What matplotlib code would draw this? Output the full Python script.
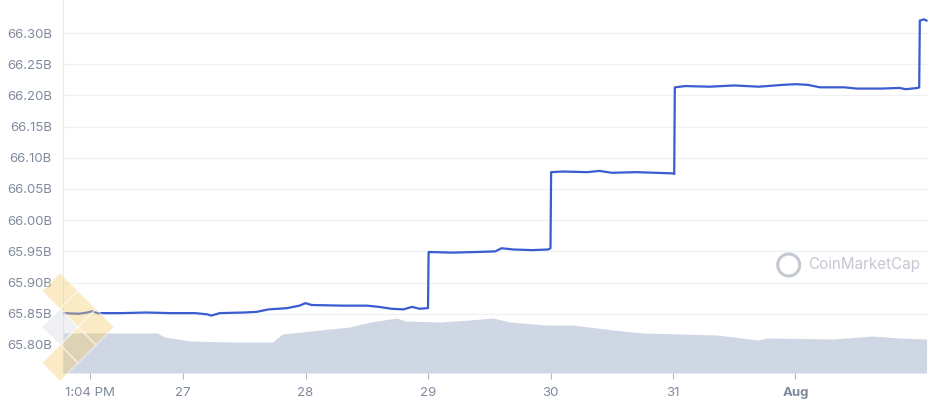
import matplotlib
matplotlib.use("Agg")
import matplotlib.pyplot as plt
from matplotlib.patches import Polygon, Ellipse

# dias: 0 = 27 de julho (meia-noite)
price_x = [-0.98, -0.85, -0.78, -0.74, -0.70, -0.5, -0.3, -0.1, 0.1, 0.2, 0.23, 0.3, 0.5, 0.6,
           0.7, 0.85, 0.95, 1.0, 1.05, 1.3, 1.5, 1.6, 1.7, 1.8, 1.87, 1.93, 2.0, 2.005, 2.2,
           2.4, 2.55, 2.6, 2.7, 2.85, 2.98, 3.0, 3.005, 3.1, 3.3, 3.4, 3.5, 3.7, 4.0, 4.01,
           4.015, 4.1, 4.3, 4.5, 4.7, 4.9, 5.0, 5.1, 5.2, 5.4, 5.5, 5.7, 5.85, 5.9, 6.0,
           6.01, 6.015, 6.05, 6.07]
price = [65.851, 65.850, 65.852, 65.854, 65.851, 65.851, 65.852, 65.851, 65.851, 65.849,
         65.847, 65.851, 65.852, 65.853, 65.857, 65.859, 65.863, 65.867, 65.864, 65.863,
         65.863, 65.861, 65.858, 65.857, 65.861, 65.858, 65.859, 65.949, 65.948, 65.949,
         65.950, 65.955, 65.953, 65.952, 65.953, 65.955, 66.077, 66.078, 66.077, 66.079,
         66.076, 66.077, 66.075, 66.074, 66.213, 66.215, 66.214, 66.216, 66.214, 66.217,
         66.218, 66.217, 66.213, 66.213, 66.211, 66.211, 66.212, 66.210, 66.212, 66.213,
         66.320, 66.322, 66.320]

vol_x = [-0.98, -0.21, -0.15, 0.06, 0.38, 0.73, 0.81, 1.2, 1.36, 1.53, 1.69, 1.75, 1.81,
         2.10, 2.34, 2.53, 2.67, 2.96, 3.18, 3.51, 3.76, 4.36, 4.69, 4.77, 5.31, 5.63,
         5.85, 6.07]
volume = [40, 40, 36, 32, 31, 31, 39, 44, 46, 51, 54, 55, 52, 51, 53, 55, 51, 48, 48, 43,
          40, 38, 33, 35, 34, 37, 35, 34]

tick_pos = [-0.76, 0, 1, 2, 3, 4, 5]
tick_labels = ["1:04 PM", "27", "28", "29", "30", "31", "Aug"]
y_ticks = [65.80, 65.85, 65.90, 65.95, 66.00, 66.05, 66.10, 66.15, 66.20, 66.25, 66.30]

plt.rcParams['font.family'] = ['Inter', 'DejaVu Sans']
grey = '#808a9d'

fig = plt.figure(figsize=(9.29, 4.0), dpi=100)
ax = fig.add_axes([0.0678, 0.0675, 0.9322, 0.9325])
ax.set_xlim(-0.98, 6.09)
ax.set_ylim(65.755, 66.353)

# volume por cima da grade, preço por cima de tudo
axv = ax.twinx()
axv.patch.set_visible(False)
axv.fill_between(vol_x, volume, 0, color='#cfd6e4', linewidth=0, zorder=1)
axv.set_ylim(0, 373)
axv.set_yticks([])
axv.plot(price_x, price, color='#3b5bd0', linewidth=1.6, zorder=3, transform=ax.transData)

ax.set_yticks(y_ticks)
ax.set_yticklabels([f"{v:.2f}B" for v in y_ticks])
ax.grid(axis='y', color='#eff1f4', linewidth=1)
ax.set_xticks(tick_pos)
ax.set_xticklabels(tick_labels)
for lbl in ax.get_xticklabels():
    if lbl.get_text() == "Aug":
        lbl.set_fontweight('bold')
ax.tick_params(axis='y', length=0, pad=8, labelsize=9.5, labelcolor=grey)
ax.tick_params(axis='x', length=4, width=0.8, color='#b0b6c3', pad=6, labelsize=9.5, labelcolor=grey)

for s in ['top', 'right', 'bottom']:
    ax.spines[s].set_visible(False)
    axv.spines[s].set_visible(False)
axv.spines['left'].set_visible(False)
ax.spines['left'].set_color('#e6e9ee')

# marca d'água CoinMarketCap
fig.text(0.8697, 0.3375, "CoinMarketCap", color='#c4c8d0', fontsize=11, ha='left', va='center')
logo = Ellipse((0.849, 0.3375), 22 / 929, 22 / 400, transform=fig.transFigure, fill=False,
               edgecolor='#c4c8d0', linewidth=2.2)
fig.patches.append(logo)

# losangos no canto inferior esquerdo
tiles = [(60, 291, '#f3cf6e'), (78, 309, '#f3cf6e'), (96, 327, '#f3cf6e'),
         (78, 345, '#f3cf6e'), (60, 363, '#f3cf6e'), (60, 327, '#d9dbe0')]
for px, py, col in tiles:
    cx, cy = px / 929, 1 - py / 400
    dx, dy = 18 / 929, 18 / 400
    poly = Polygon([(cx, cy + dy), (cx + dx, cy), (cx, cy - dy), (cx - dx, cy)],
                   closed=True, transform=fig.transFigure, facecolor=col,
                   alpha=0.4, edgecolor='white', linewidth=1.2)
    fig.patches.append(poly)

fig.savefig("out.png", dpi=100)
